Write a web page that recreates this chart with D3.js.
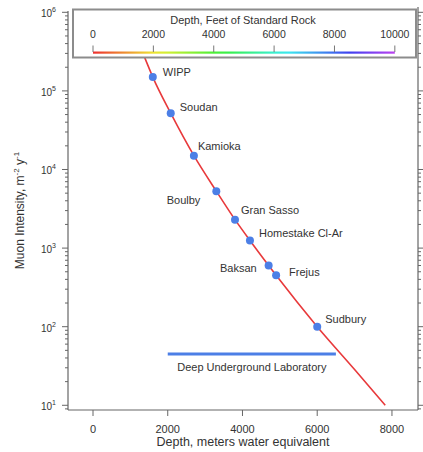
<!DOCTYPE html>
<html><head><meta charset="utf-8">
<script src="https://cdn.jsdelivr.net/npm/d3@7"></script>
<style>
html,body{margin:0;padding:0;background:#fff;}
svg{display:block;font-family:"Liberation Sans",Arial,Helvetica,sans-serif;}
</style></head>
<body>
<svg id="chart" width="423" height="452"></svg>
<script>
// ---- data ----
const siteNames = ["WIPP","Soudan","Kamioka","Boulby","Gran Sasso","Homestake Cl-Ar","Baksan","Frejus","Sudbury"];
const siteDepth = [1600, 2080, 2700, 3300, 3800, 4200, 4700, 4900, 6000];           // m.w.e.
const siteIntensity = [1.5e5, 5.2e4, 1.5e4, 5.3e3, 2.3e3, 1.25e3, 600, 450, 100];  // m^-2 y^-1
// label placement (layout, not data): [dx, dy, anchor]
const labelDx = [10, 9, 4, -16, 6, 9, -12, 13, 8];
const labelDy = [-5, -6, -10, 9, -10, -7, 2, -3, -8];
const labelAnchor = ["start","start","start","end","start","start","end","start","start"];

const curveDepth = [1200, 1391, 1600, 2080, 2700, 3300, 3800, 4200, 4700, 4900, 6000, 7000, 7820];
const curveIntensity = [4.4e5, 2.6e5, 1.5e5, 5.2e4, 1.5e4, 5.3e3, 2.3e3, 1.25e3, 600, 450, 100, 28.5, 10];

const dulRange = [2000, 6500];   // Deep Underground Laboratory depth range
const dulLevel = 45;
const dulLabel = "Deep Underground Laboratory";

const xTicks = [0, 2000, 4000, 6000, 8000];
const yMajor = [1e1, 1e2, 1e3, 1e4, 1e5, 1e6];
const feetTicks = [0, 2000, 4000, 6000, 8000, 10000];
const feetToMwe = 0.3048 * 2.65;  // standard rock density 2.65 g/cm^3

// ---- layout ----
const L = 68, R = 418, T = 11, B = 410;
const svg = d3.select("#chart");
const axisColor = "#666", textColor = "#333";

const x = d3.scaleLinear().domain([-669, 8697]).range([L, R]);
const y = d3.scaleLog().domain([8.71, 1.039e6]).range([B, T]);

// minor ticks
const yMinor = [];
for (let e = 0; e <= 5; e++) for (let m = 2; m <= 9; m++) {
  const v = m * Math.pow(10, e);
  if (v >= y.domain()[0] && v <= y.domain()[1]) yMinor.push(v);
}

// ---- axes ----
const g = svg.append("g");
g.append("line").attr("x1", L).attr("x2", L).attr("y1", T).attr("y2", B).attr("stroke", axisColor).attr("stroke-width", 1.2);
g.append("line").attr("x1", R).attr("x2", R).attr("y1", T-4).attr("y2", B).attr("stroke", axisColor).attr("stroke-width", 1.2);
g.append("line").attr("x1", L).attr("x2", R).attr("y1", B).attr("y2", B).attr("stroke", axisColor).attr("stroke-width", 1.2);

g.selectAll(".ymaj").data(yMajor).join("line")
  .attr("x1", L-6).attr("x2", L).attr("y1", d=>y(d)).attr("y2", d=>y(d)).attr("stroke", axisColor);
g.selectAll(".ymin").data(yMinor).join("line")
  .attr("x1", L-3).attr("x2", L).attr("y1", d=>y(d)).attr("y2", d=>y(d)).attr("stroke", axisColor);
g.selectAll(".ymajR").data(yMajor).join("line")
  .attr("x1", R).attr("x2", R+6).attr("y1", d=>y(d)).attr("y2", d=>y(d)).attr("stroke", axisColor);
g.selectAll(".yminR").data(yMinor).join("line")
  .attr("x1", R).attr("x2", R+3).attr("y1", d=>y(d)).attr("y2", d=>y(d)).attr("stroke", axisColor);

// y tick labels 10^n
const yl = g.selectAll(".ylab").data(yMajor).join("text")
  .attr("x", 56).attr("y", d=>y(d)+5).attr("text-anchor","end")
  .attr("fill", textColor).attr("font-size", 10);
yl.append("tspan").text("10");
yl.append("tspan").attr("dy", -5).attr("font-size", 7).text(d=>Math.round(Math.log10(d)));

// x ticks
g.selectAll(".xt").data(xTicks).join("line")
  .attr("x1", d=>x(d)).attr("x2", d=>x(d)).attr("y1", B).attr("y2", B+6).attr("stroke", axisColor);
g.selectAll(".xl").data(xTicks).join("text")
  .attr("x", d=>x(d)).attr("y", 433).attr("text-anchor","middle")
  .attr("fill", textColor).attr("font-size", 11).text(d=>d);

// axis titles
g.append("text").attr("x", (L+R)/2).attr("y", 445.5).attr("text-anchor","middle")
  .attr("fill", textColor).attr("font-size", 12.5).text("Depth, meters water equivalent");
const yt = g.append("text").attr("transform", `translate(24,${(T+B)/2}) rotate(-90)`)
  .attr("text-anchor","middle").attr("fill", textColor).attr("font-size", 12);
yt.append("tspan").text("Muon Intensity, m");
yt.append("tspan").attr("dy", -5).attr("font-size", 8).text("-2");
yt.append("tspan").attr("dy", 5).text(" y");
yt.append("tspan").attr("dy", -5).attr("font-size", 8).text("-1");

// ---- curve ----
const curvePts = curveDepth.map((d,i)=>[d, curveIntensity[i]]);
svg.append("path").datum(curvePts)
  .attr("d", d3.line().x(d=>x(d[0])).y(d=>y(d[1])).curve(d3.curveMonotoneX))
  .attr("fill","none").attr("stroke","#e8393b").attr("stroke-width",1.6);

// ---- DUL bar ----
svg.append("line").attr("x1", x(dulRange[0])).attr("x2", x(dulRange[1]))
  .attr("y1", y(dulLevel)).attr("y2", y(dulLevel))
  .attr("stroke","#4c7fe6").attr("stroke-width",3);
svg.append("text").attr("x", (x(dulRange[0])+x(dulRange[1]))/2).attr("y", y(dulLevel)+17)
  .attr("text-anchor","middle").attr("fill", textColor).attr("font-size", 11).text(dulLabel);

// ---- sites ----
const sites = siteNames.map((n,i)=>({n, d:siteDepth[i], v:siteIntensity[i], dx:labelDx[i], dy:labelDy[i], a:labelAnchor[i]}));
svg.selectAll(".dot").data(sites).join("circle")
  .attr("cx", d=>x(d.d)).attr("cy", d=>y(d.v)).attr("r", 4).attr("fill","#4c7fe6");
svg.selectAll(".lab").data(sites).join("text")
  .attr("x", d=>x(d.d)+d.dx).attr("y", d=>y(d.v)+d.dy+4)
  .attr("text-anchor", d=>d.a).attr("fill", textColor).attr("font-size", 11).text(d=>d.n);

// ---- legend box with feet scale ----
const xf = d3.scaleLinear().domain([0, 10000]).range([x(0), x(10000*feetToMwe)]);
svg.append("rect").attr("x", 73).attr("y", 9.5).attr("width", 343).attr("height", 48)
  .attr("fill","#fff").attr("stroke","#8c8c8c").attr("stroke-width",2);
svg.append("text").attr("x", 243).attr("y", 24).attr("text-anchor","middle")
  .attr("fill", textColor).attr("font-size", 11).text("Depth, Feet of Standard Rock");
const defs = svg.append("defs");
const grad = defs.append("linearGradient").attr("id","rainbow").attr("x1","0%").attr("x2","100%");
const hue = d3.interpolateHslLong("hsl(0,85%,56%)","hsl(282,85%,60%)");
d3.range(0, 1.0001, 0.05).forEach(t=>grad.append("stop").attr("offset", (t*100)+"%").attr("stop-color", hue(t)));
svg.append("rect").attr("x", xf(0)).attr("y", 51.5).attr("width", xf(10000)-xf(0)).attr("height", 2.2)
  .attr("fill","url(#rainbow)");
svg.selectAll(".ft").data(feetTicks).join("line")
  .attr("x1", d=>xf(d)).attr("x2", d=>xf(d)).attr("y1", 45.5).attr("y2", 52).attr("stroke","#777");
svg.selectAll(".fl").data(feetTicks).join("text")
  .attr("x", d=>xf(d)).attr("y", 38).attr("text-anchor","middle")
  .attr("fill", textColor).attr("font-size", 10.5).text(d=>d);
</script>
</body></html>
